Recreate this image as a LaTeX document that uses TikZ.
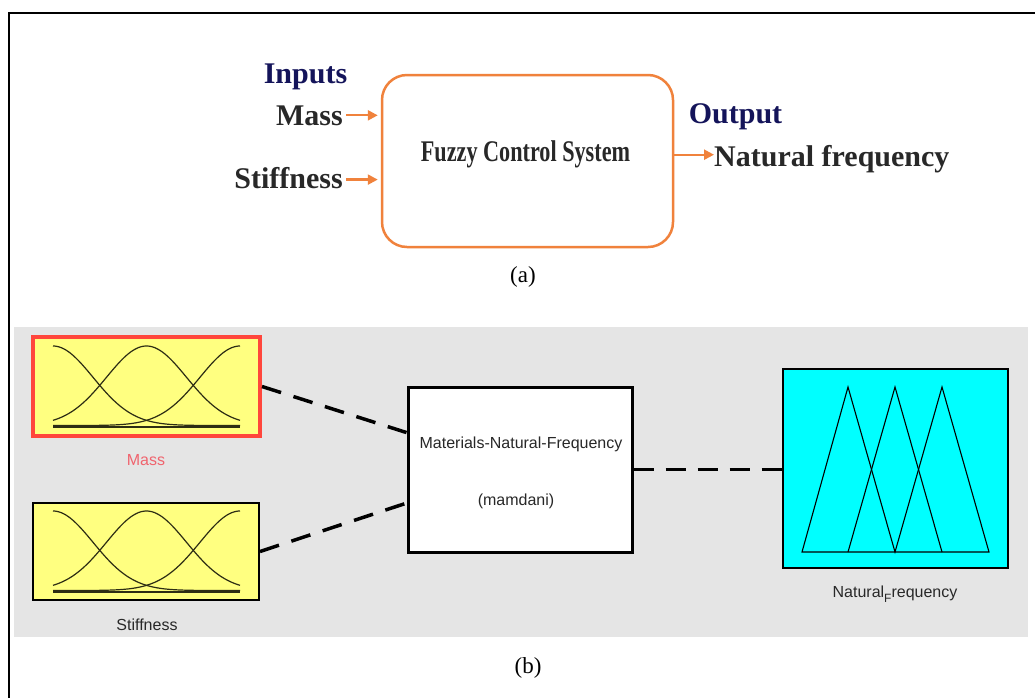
\documentclass[tikz,border=0pt]{standalone}
\usepackage{fontspec}
\usepackage{graphicx}
\newfontfamily\tnr{Liberation Serif}
\newfontfamily\arial{Liberation Sans}
\usetikzlibrary{arrows.meta,calc}
\definecolor{oarr}{RGB}{240,130,60}
\definecolor{navyt}{RGB}{20,20,90}
\definecolor{darkt}{RGB}{40,40,40}
\definecolor{panel}{RGB}{229,229,229}
\definecolor{yfill}{RGB}{255,255,128}
\definecolor{redb}{RGB}{255,70,60}
\definecolor{cfill}{RGB}{0,255,255}
\definecolor{massred}{RGB}{240,100,110}
\definecolor{curvec}{RGB}{45,45,20}
\tikzset{
  bigtxt/.style={inner sep=0pt, font=\tnr\bfseries\fontsize{30}{34}\selectfont, text=darkt},
  navytxt/.style={bigtxt, text=navyt},
  fcsbox/.style={draw=oarr, line width=2.5pt, rounded corners=25pt, minimum width=291pt, minimum height=172pt, inner sep=0pt, fill=white},
  oarrow/.style={draw=oarr, line width=2.3pt, -{Triangle[length=10pt,width=10pt]}},
  sanstxt/.style={inner sep=0pt, font=\arial\fontsize{16}{18}\selectfont, text=darkt},
  mfbox/.style={draw, inner sep=0pt, fill=yfill},
  curve/.style={draw=curvec, line width=1.2pt},
  dashc/.style={line width=3.5pt, dash pattern=on 20pt off 13pt},
  dashr/.style={line width=3.5pt, dash pattern=on 20pt off 12pt},
  capt/.style={inner sep=0pt, font=\tnr\fontsize{23}{26}\selectfont, text=black},
}
\begin{document}
\begin{tikzpicture}[x=1pt,y=-1pt]
\useasboundingbox (0,0) rectangle (1035,697);
\fill[white] (0,0) rectangle (1035,697);
\draw[line width=2.5pt] (9,720) -- (9,13) -- (1060,13);

% ---- (a) ----
\node[fcsbox] (fcs) at (527.5,161) {};
\node[bigtxt, anchor=base] (fcstxt) at (525.5,161) {\scalebox{0.74}[1]{Fuzzy Control System}};
\node[navytxt, anchor=base] (inputs) at (305.5,83) {Inputs};
\node[bigtxt, anchor=base east] (massin) at (343,125) {Mass};
\node[bigtxt, anchor=base east] (stiffin) at (343,188) {Stiffness};
\node[navytxt, anchor=base] (output) at (735.5,123) {Output};
\node[bigtxt, anchor=base west] (nf) at (714,166) {Natural frequency};
\draw[oarrow] ([xshift=3pt]massin.east) -- ([xshift=-3pt]massin.east -| fcs.west);
\draw[oarrow] ([xshift=3pt,yshift=-2pt]stiffin.east) -- ([xshift=-3pt,yshift=-2pt]stiffin.east -| fcs.west);
\draw[oarrow] ([yshift=4pt]nf.west -| fcs.east) -- ([yshift=4pt]nf.west);
\node[capt] (capa) at (523,277) {(a)};

% ---- (b) ----
\fill[panel] (14,327) rectangle (1028,637);
\node[mfbox, draw=redb, line width=4pt, minimum width=227pt, minimum height=99pt] (mass) at (146.5,386.5) {};
\node[mfbox, line width=2pt, minimum width=226pt, minimum height=97pt] (stiff) at (146,551.5) {};
\node[draw, fill=white, line width=3pt, inner sep=0pt, minimum width=224pt, minimum height=165pt] (mid) at (520,469.5) {};
\node[draw, fill=cfill, line width=2pt, inner sep=0pt, minimum width=225pt, minimum height=199pt] (out) at (895.5,468.5) {};

\foreach \dy in {0,165}{
  \begin{scope}[shift={(0,\dy)}]
    \draw[curve] (53,427) -- (240,427);
    \foreach \c in {53,146.5,240}{
      \draw[curve] plot[domain=53:240, samples=90, smooth] (\x,{425.5-79.5*exp(-0.5*((\x-\c)/40)*((\x-\c)/40))});
    }
  \end{scope}
}

\draw[curve, line width=1.1pt, draw=black] (802,552) -- (848,387) -- (895,552) -- (942,387) -- (989,552) -- cycle;
\draw[curve, line width=1.1pt, draw=black] (848,552) -- (895,387) -- (942,552);

\draw[dashc] (mass.east) -- ($(mid.north west)!0.28!(mid.south west)$);
\draw[dashc] (stiff.east) -- ($(mid.north west)!0.70!(mid.south west)$);
\draw[dashr] (mid.east) -- (mid.east -| out.west);

\node[sanstxt, text=massred, anchor=base] (masslab) at (146,465) {Mass};
\node[sanstxt, anchor=base] (stifflab) at (147,630) {Stiffness};
\node[sanstxt, anchor=base] (mnf) at (521,448) {Materials-Natural-Frequency};
\node[sanstxt, anchor=base] (mam) at (516,505) {(mamdani)};
\node[sanstxt, anchor=base] (nflab) at (895,597) {Natural\raisebox{-5pt}{\fontsize{12}{12}\selectfont F}requency};

\node[capt] (capb) at (528,668) {(b)};
\end{tikzpicture}
\end{document}
